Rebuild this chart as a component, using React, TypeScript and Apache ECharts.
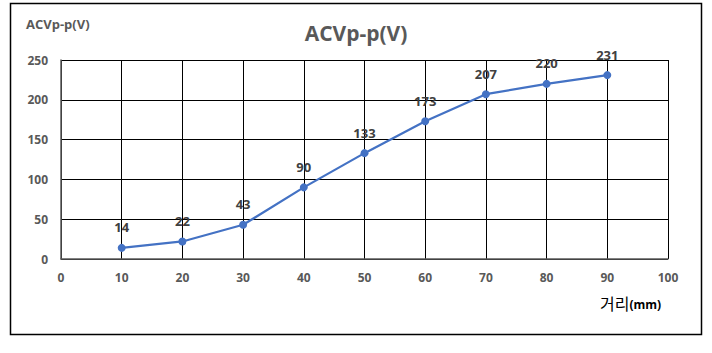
import React, { useEffect, useRef } from "react";
import * as echarts from "echarts";

const distances = [10, 20, 30, 40, 50, 60, 70, 80, 90];
const voltages = [14, 22, 43, 90, 133, 173, 207, 220, 231];
const chartTitle = "ACVp-p(V)";
const yAxisName = "ACVp-p(V)";
const xAxisNameMain = "거리";
const xAxisNameUnit = "(mm)";

export default function App() {
  const ref = useRef<HTMLDivElement>(null);
  useEffect(() => {
    document.body.style.margin = "0";
    const chart = echarts.init(ref.current!, null, { renderer: "svg" });
    const font = "'Open Sans', 'Noto Sans CJK KR', sans-serif";
    chart.setOption({
      animation: false,
      backgroundColor: "#ffffff",
      textStyle: { fontFamily: font },
      title: {
        text: chartTitle,
        left: "center",
        top: 17,
        textStyle: { fontSize: 21, fontWeight: "bold", color: "#595959", fontFamily: font },
      },
      grid: { left: 61, right: 44, top: 60, bottom: 94 },
      xAxis: {
        type: "value",
        min: 0,
        max: 100,
        interval: 10,
        axisLine: { show: true, lineStyle: { color: "#595959", width: 1.5 } },
        axisTick: { show: false },
        axisLabel: { color: "#595959", fontSize: 12, fontWeight: "bold", margin: 12, fontFamily: font },
        splitLine: { show: true, lineStyle: { color: "#000000", width: 1 } },
      },
      yAxis: {
        type: "value",
        min: 0,
        max: 250,
        interval: 50,
        axisLine: { show: true, lineStyle: { color: "#595959", width: 1.5 } },
        axisTick: { show: false },
        axisLabel: { color: "#595959", fontSize: 12, fontWeight: "bold", margin: 13, fontFamily: font },
        splitLine: { show: true, lineStyle: { color: "#000000", width: 1 } },
      },
      series: [
        {
          type: "line",
          data: distances.map((d, i) => [d, voltages[i]]),
          lineStyle: { color: "#4472C4", width: 2.25 },
          itemStyle: { color: "#4472C4" },
          symbol: "circle",
          symbolSize: 8,
          label: {
            show: true,
            position: "top",
            distance: 10,
            color: "#404040",
            fontSize: 13,
            fontWeight: "bold",
            fontFamily: font,
          },
        },
      ],
      graphic: [
        {
          type: "rect",
          shape: { x: 10.5, y: 3.5, width: 691, height: 331 },
          style: { fill: "none", stroke: "#000000", lineWidth: 1.5 },
          silent: true,
        },
        {
          type: "text",
          left: 26,
          top: 17,
          style: {
            text: yAxisName,
            fill: "#595959",
            font: `bold 13px ${font}`,
          },
        },
        {
          type: "text",
          left: 600,
          top: 296,
          style: {
            text: `{a|${xAxisNameMain}}{b|${xAxisNameUnit}}`,
            rich: {
              a: { fontSize: 16, color: "#595959", fontFamily: font },
              b: { fontSize: 12, fontWeight: "bold", color: "#595959", fontFamily: font },
            },
          },
        },
      ],
    });
    return () => chart.dispose();
  }, []);
  return <div ref={ref} style={{ position: "fixed", left: 0, top: 0, width: 712, height: 353 }} />;
}
